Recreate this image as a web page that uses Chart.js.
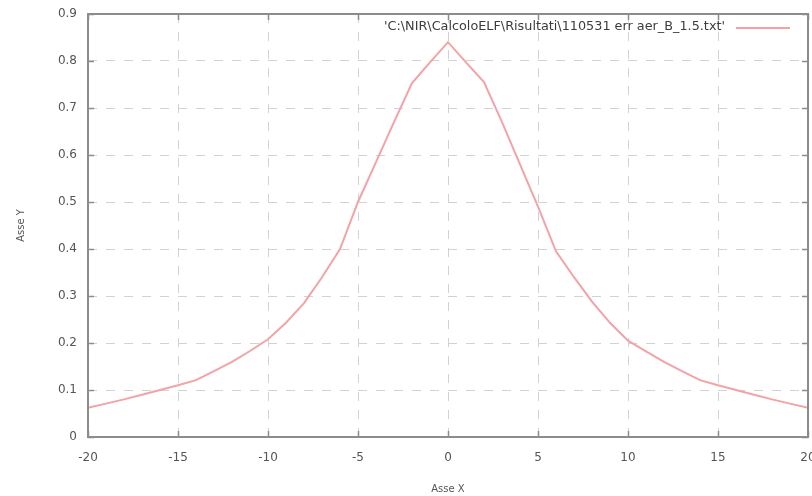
<!DOCTYPE html>
<html>
<head>
<meta charset="utf-8">
<script src="https://cdn.jsdelivr.net/npm/chart.js@4.4.1/dist/chart.umd.min.js"></script>
<style>
  html, body { margin: 0; padding: 0; background: #fff; }
</style>
</head>
<body>
<canvas id="chart" width="812" height="496"></canvas>
<script>
/*  Dati  */

const xValues = [-20, -19, -18, -17, -16, -15, -14, -13, -12, -11, -10, -9, -8, -7, -6, -5, -4, -3, -2, -1,
                 0, 1, 2, 3, 4, 5, 6, 7, 8, 9, 10, 11, 12, 13, 14, 15, 16, 17, 18, 19, 20];
const yValues = [0.062, 0.071, 0.080, 0.090, 0.100, 0.110, 0.121, 0.140, 0.160, 0.183, 0.208, 0.243, 0.285, 0.340, 0.400, 0.500, 0.585, 0.670, 0.753, 0.797,
                 0.840, 0.797, 0.755, 0.670, 0.580, 0.490, 0.395, 0.340, 0.288, 0.243, 0.205, 0.182, 0.160, 0.140, 0.121, 0.110, 0.100, 0.090, 0.080, 0.071, 0.062];
const seriesLabel = "'C:\\NIR\\CalcoloELF\\Risultati\\110531 err aer_B_1.5.txt'";
const xTitle = "Asse X";
const yTitle = "Asse Y";

const LINE_COLOR = "#f2a3a8";
const AXIS_COLOR = "#8c8c8c";
const TEXT_COLOR = "#555555";
const FONT = "'DejaVu Sans', sans-serif";


/*  Cornice, tacche e legenda stile gnuplot  */

const gnuplotFrame = {
    id: "gnuplotFrame",
    afterDatasetsDraw(chart) {
        const ctx = chart.ctx;
        const a = chart.chartArea;
        const xs = chart.scales.x, ys = chart.scales.y;
        const tick = 6;

        ctx.save();
        ctx.strokeStyle = AXIS_COLOR;
        ctx.lineWidth = 1.5;
        ctx.setLineDash([]);

        ctx.beginPath();
        xs.ticks.forEach(t => {
            const px = Math.round(xs.getPixelForValue(t.value)) + 0.5;
            ctx.moveTo(px, a.bottom); ctx.lineTo(px, a.bottom - tick);
            ctx.moveTo(px, a.top);    ctx.lineTo(px, a.top + tick);
        });
        ys.ticks.forEach(t => {
            const py = Math.round(ys.getPixelForValue(t.value)) + 0.5;
            ctx.moveTo(a.left, py);  ctx.lineTo(a.left + tick, py);
            ctx.moveTo(a.right, py); ctx.lineTo(a.right - tick, py);
        });
        ctx.stroke();

        ctx.lineWidth = 2;
        ctx.strokeRect(a.left, a.top, a.right - a.left, a.bottom - a.top);

        // legenda: testo allineato a destra, poi il campione della linea
        const ly = a.top + 13;
        const textRight = 725, textWidth = 341;
        ctx.font = "12px " + FONT;
        ctx.fillStyle = "#3c3c3c";
        ctx.textAlign = "left";
        ctx.textBaseline = "middle";
        const w = ctx.measureText(seriesLabel).width;
        ctx.save();
        ctx.translate(textRight - textWidth, ly);
        ctx.scale(textWidth / w, 1);
        ctx.fillText(seriesLabel, 0, 0);
        ctx.restore();

        ctx.strokeStyle = LINE_COLOR;
        ctx.lineWidth = 2;
        ctx.beginPath();
        ctx.moveTo(736, ly + 1);
        ctx.lineTo(790, ly + 1);
        ctx.stroke();
        ctx.restore();
    }
};


/*  Grafico  */

new Chart(document.getElementById("chart"), {
    type: "line",
    data: {
        labels: xValues,
        datasets: [{
            label: seriesLabel,
            data: xValues.map((x, i) => ({ x, y: yValues[i] })),
            borderColor: LINE_COLOR,
            borderWidth: 2,
            pointRadius: 0,
            tension: 0,
            fill: false
        }]
    },
    options: {
        responsive: false,
        animation: false,
        layout: { padding: { top: 14, right: 4, left: 0, bottom: 0 } },
        plugins: {
            legend: { display: false },
            tooltip: { enabled: false }
        },
        scales: {
            x: {
                type: "linear",
                min: -20, max: 20,
                afterFit: s => {
                    s.height = 59;
                    s.paddingLeft = 0;
                    s.paddingRight = 0;
                },
                ticks: {
                    stepSize: 5,
                    padding: 14,
                    color: TEXT_COLOR,
                    font: { family: FONT, size: 12 },
                    maxRotation: 0
                },
                grid: {
                    color: "#d2d2d2",
                    lineWidth: 1,
                    drawTicks: false
                },
                border: { display: false, dash: [9, 9] },
                title: {
                    display: true,
                    text: xTitle,
                    color: TEXT_COLOR,
                    font: { family: FONT, size: 10 },
                    padding: { top: 0, bottom: 1 }
                }
            },
            y: {
                min: 0, max: 0.9,
                afterFit: s => {
                    s.width = 88;
                    s.paddingTop = 0;
                    s.paddingBottom = 0;
                },
                ticks: {
                    stepSize: 0.1,
                    padding: 11,
                    color: TEXT_COLOR,
                    font: { family: FONT, size: 12 }
                },
                grid: {
                    color: "#d2d2d2",
                    lineWidth: 1,
                    drawTicks: false
                },
                border: { display: false, dash: [9, 9] },
                title: {
                    display: true,
                    text: yTitle,
                    color: TEXT_COLOR,
                    font: { family: FONT, size: 10 },
                    padding: { top: 15, bottom: 0 }
                }
            }
        }
    },
    plugins: [gnuplotFrame]
});
</script>
</body>
</html>
